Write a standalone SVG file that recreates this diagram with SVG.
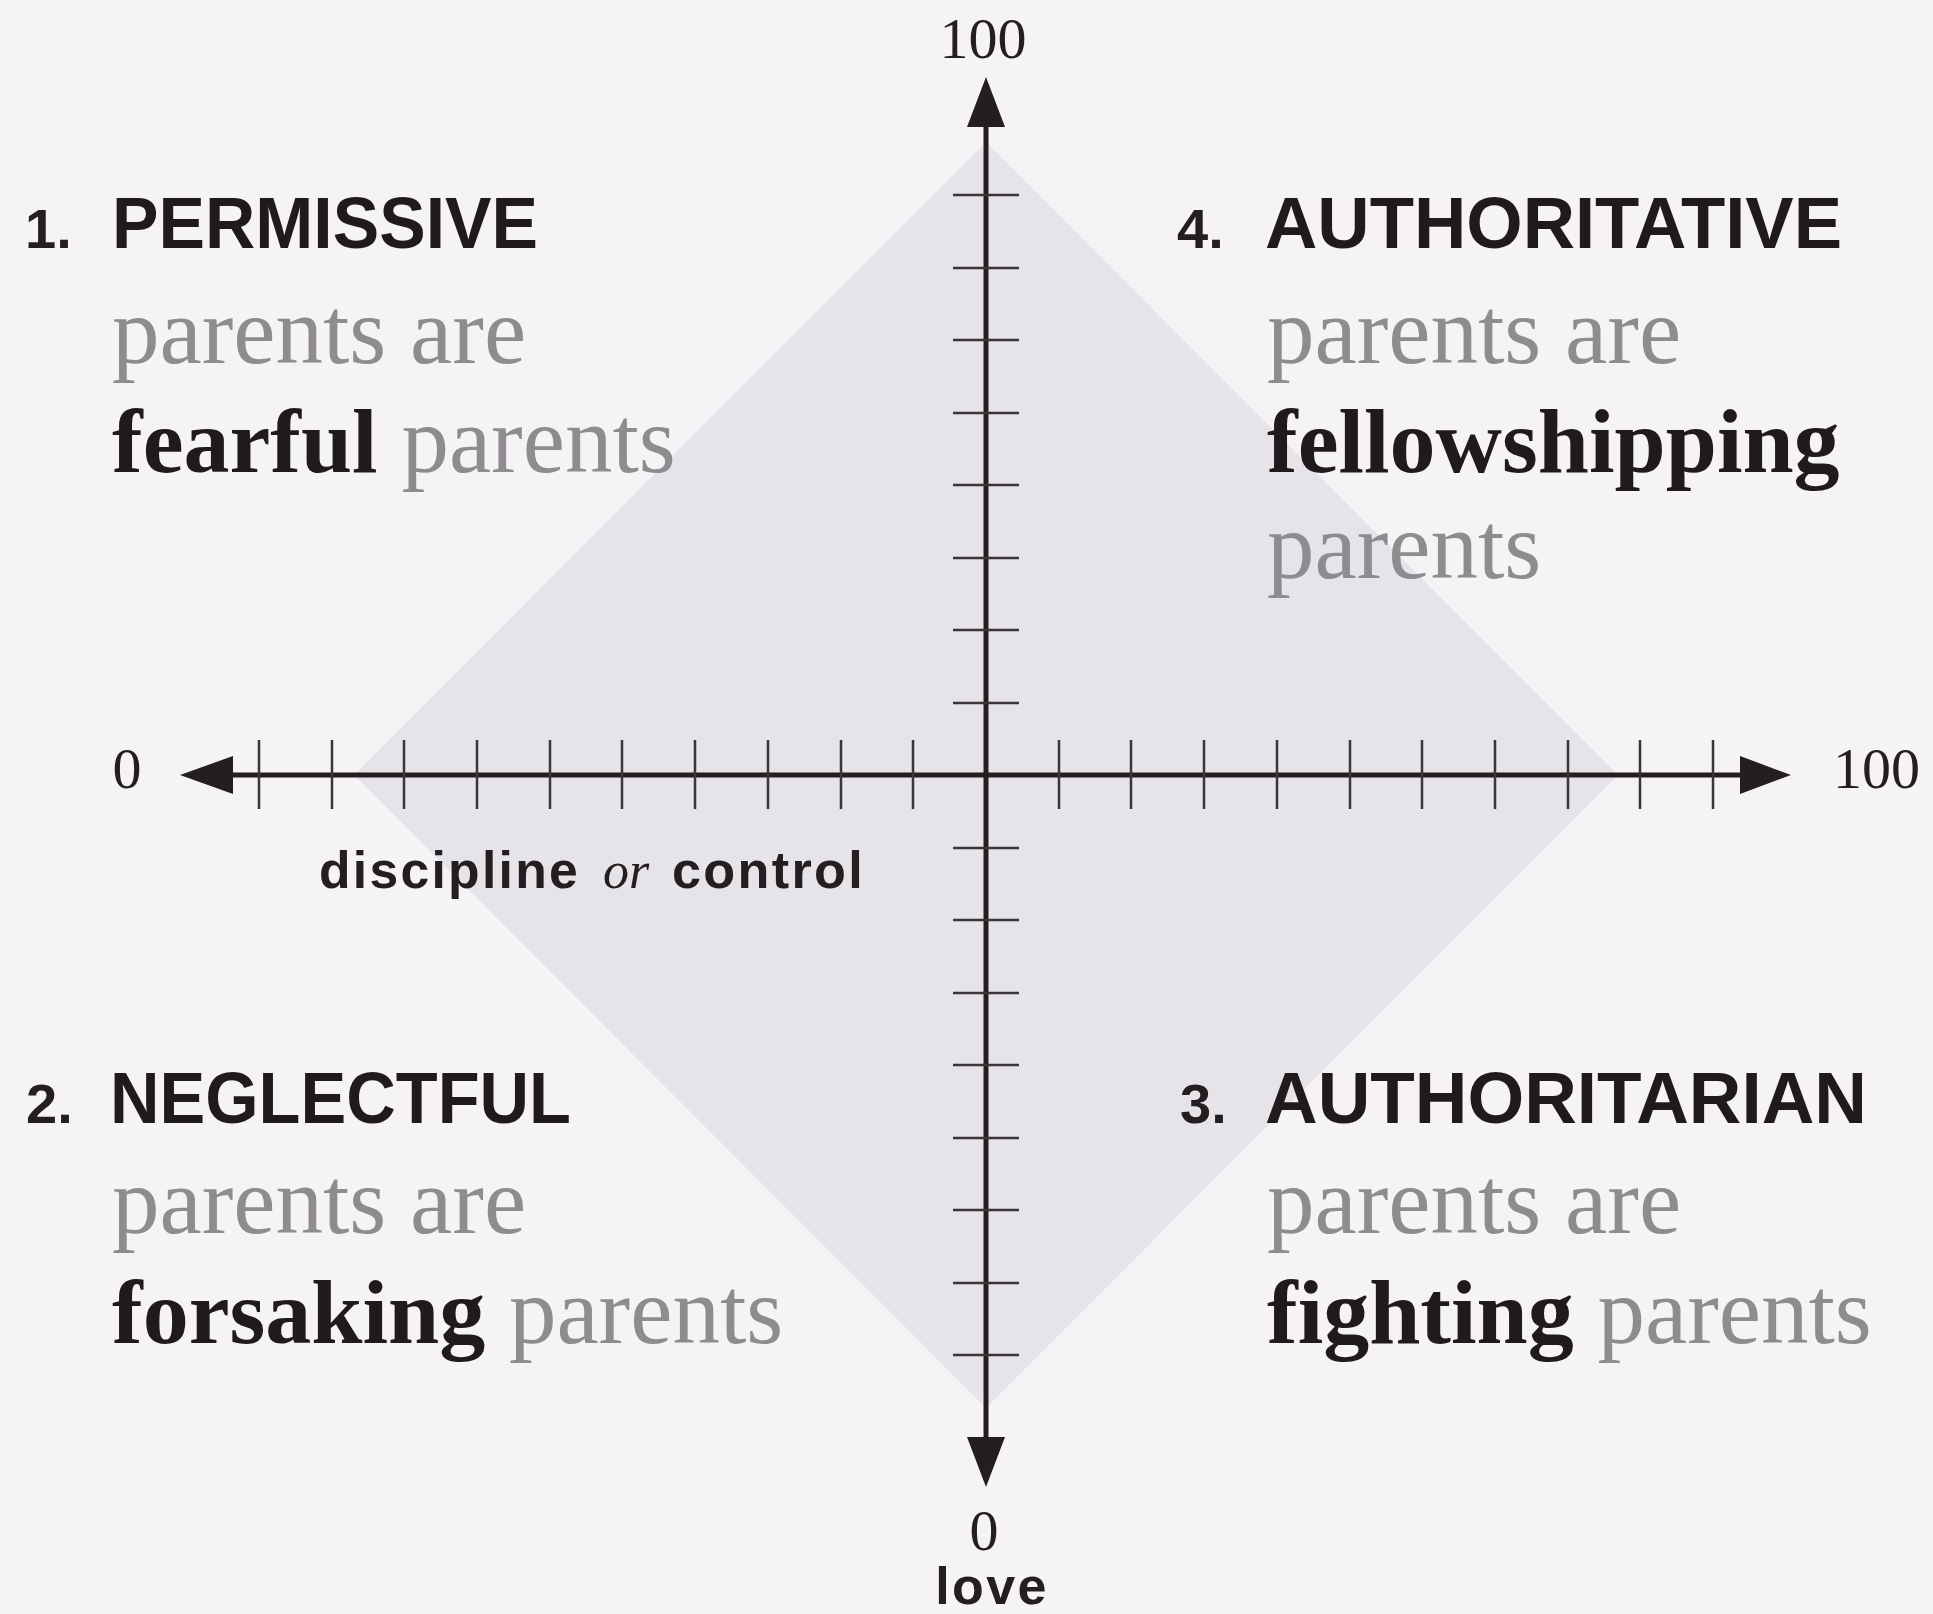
<svg xmlns="http://www.w3.org/2000/svg" width="1933" height="1614" viewBox="0 0 1933 1614">
<style>
.bg{fill:#f6f3f7}
.dia{fill:#e6e3e9}
.axis{stroke:#231f20;stroke-width:5;fill:none}
.tick{stroke:#3a3637;stroke-width:2.5;fill:none}
.head{fill:#231f20}
.num{font-family:"Liberation Sans",Arial,sans-serif;font-weight:bold;font-size:56px;fill:#231f20}
.ttl{font-family:"Liberation Sans",Arial,sans-serif;font-weight:bold;font-size:72px;fill:#1f1b1d}
.body{font-family:"Liberation Serif","Times New Roman",serif;font-size:95px;fill:#8f8c90}
.bold{font-weight:bold;font-size:92px;fill:#1f1b1d}
.val{font-family:"Liberation Serif","Times New Roman",serif;font-size:58px;fill:#231f20}
.lab{font-family:"Liberation Sans",Arial,sans-serif;font-weight:bold;font-size:52px;fill:#231f20;letter-spacing:2.3px}
.it{font-family:"Liberation Serif","Times New Roman",serif;font-style:italic;font-size:52px;fill:#231f20}
</style>
<rect class="bg" x="0" y="0" width="1933" height="1614"/>
<g id="diamond">
<polygon class="dia" points="986,142 1618,775 986,1408 354,775"/>
</g>
<g id="connectors">
<line class="axis" x1="228" y1="775" x2="1745" y2="775"/>
<line class="axis" x1="986" y1="122" x2="986" y2="1442"/>
<polygon class="head" points="180,775 233,756 233,794"/>
<polygon class="head" points="1791,775 1740,756 1740,794"/>
<polygon class="head" points="986,77 1005,127 967,127"/>
<polygon class="head" points="986,1487 1005,1437 967,1437"/>
<g id="ticks-x">
<path class="tick" d="M259,740V809 M332,740V809 M404,740V809 M477,740V809 M550,740V809 M622,740V809 M695,740V809 M768,740V809 M841,740V809 M913,740V809 M1059,740V809 M1131,740V809 M1204,740V809 M1277,740V809 M1350,740V809 M1422,740V809 M1495,740V809 M1568,740V809 M1640,740V809 M1713,740V809"/>
</g>
<g id="ticks-y">
<path class="tick" d="M953,195H1019 M953,268H1019 M953,340H1019 M953,413H1019 M953,485H1019 M953,558H1019 M953,630H1019 M953,703H1019 M953,848H1019 M953,920H1019 M953,993H1019 M953,1065H1019 M953,1138H1019 M953,1210H1019 M953,1283H1019 M953,1355H1019"/>
</g>
</g>
<g id="axis-labels">
<text class="val" x="983" y="58" text-anchor="middle">100</text>
<text class="val" x="984" y="1550" text-anchor="middle">0</text>
<text class="val" x="127" y="788" text-anchor="middle">0</text>
<text class="val" x="1833" y="788">100</text>
<text class="lab" x="992" y="1604" text-anchor="middle">love</text>
<text class="lab" x="319" y="888" textLength="261" lengthAdjust="spacingAndGlyphs">discipline</text>
<text class="it" x="603" y="888">or</text>
<text class="lab" x="672" y="888" textLength="193" lengthAdjust="spacingAndGlyphs">control</text>
</g>
<g id="permissive">
<text class="num" x="25" y="248">1.</text>
<text class="ttl" x="112" y="248" textLength="426" lengthAdjust="spacingAndGlyphs">PERMISSIVE</text>
<text class="body" x="112" y="363">parents are</text>
<text class="body" x="112" y="472"><tspan class="bold">fearful</tspan> parents</text>
</g>
<g id="authoritative">
<text class="num" x="1177" y="248">4.</text>
<text class="ttl" x="1265" y="248" textLength="577" lengthAdjust="spacingAndGlyphs">AUTHORITATIVE</text>
<text class="body" x="1267" y="363">parents are</text>
<text class="body bold" x="1267" y="472">fellowshipping</text>
<text class="body" x="1267" y="578">parents</text>
</g>
<g id="neglectful">
<text class="num" x="26" y="1123">2.</text>
<text class="ttl" x="110" y="1123" textLength="461" lengthAdjust="spacingAndGlyphs">NEGLECTFUL</text>
<text class="body" x="112" y="1233">parents are</text>
<text class="body" x="112" y="1343"><tspan class="bold">forsaking</tspan> parents</text>
</g>
<g id="authoritarian">
<text class="num" x="1180" y="1123">3.</text>
<text class="ttl" x="1265" y="1123" textLength="602" lengthAdjust="spacingAndGlyphs">AUTHORITARIAN</text>
<text class="body" x="1267" y="1233">parents are</text>
<text class="body" x="1267" y="1343"><tspan class="bold">fighting</tspan> parents</text>
</g>
</svg>
